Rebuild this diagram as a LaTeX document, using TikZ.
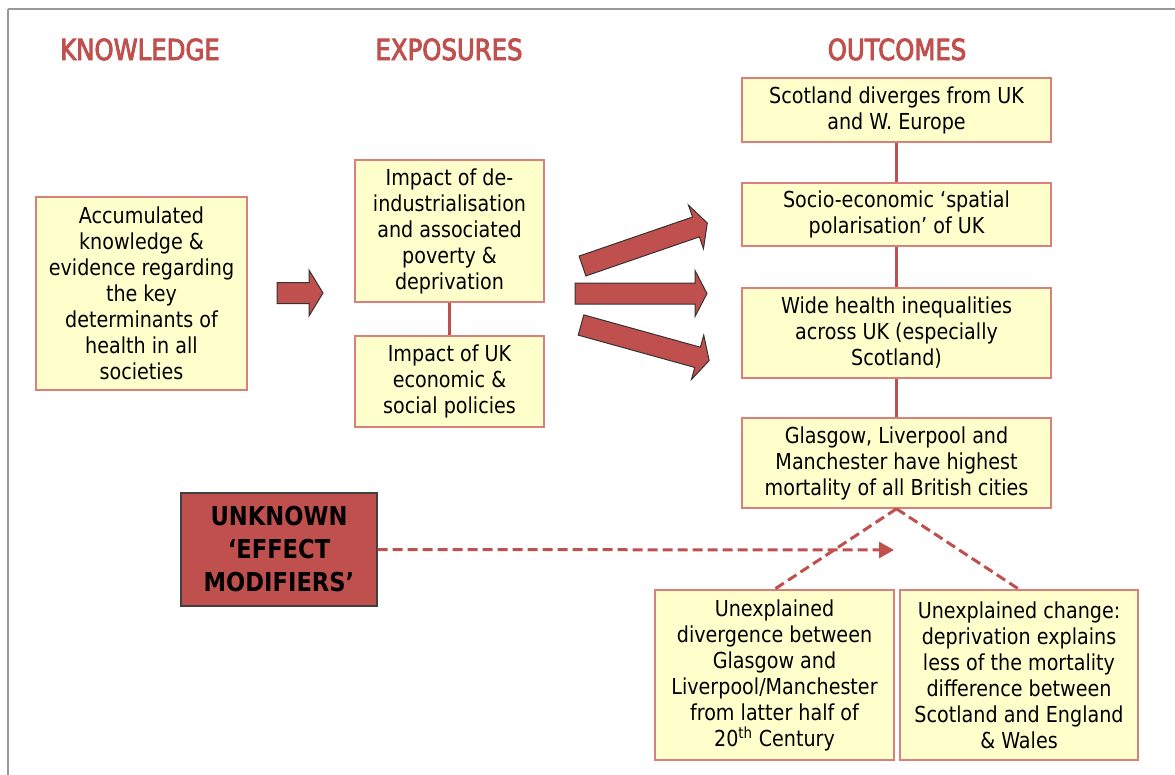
\documentclass[tikz,border=0pt]{standalone}
\usepackage{fontspec}
\setmainfont{DejaVu Sans}[FakeStretch=0.87]
\newfontfamily\headfont{DejaVu Sans}[FakeStretch=0.84, FakeBold=3]
\usetikzlibrary{arrows.meta, positioning}

\definecolor{brick}{HTML}{C0504D}
\definecolor{boxline}{HTML}{D9807C}
\definecolor{pale}{HTML}{FFFFCC}

% fat block arrow: x, y, angle, length, head length
\newcommand{\fatarrow}[5]{%
  \begin{scope}[shift={(#1,#2)}, rotate=#3]
    \filldraw[fatarr] (0,-10.5) -- (#4-#5,-10.5) -- (#4-#5,-23) -- (#4,0)
      -- (#4-#5,23) -- (#4-#5,10.5) -- (0,10.5) -- cycle;
  \end{scope}}

\begin{document}
\begin{tikzpicture}[x=1pt, y=-1pt]
\tikzstyle{every node}=[inner sep=0pt, align=center, font=\fontsize{22}{26}\selectfont]
\tikzstyle{head}=[text=brick, anchor=base, font=\headfont\fontsize{29}{32}\selectfont]
\tikzstyle{box}=[draw=boxline, line width=1.5pt, fill=pale]
\tikzstyle{modbox}=[draw=black!75, line width=1.2pt, fill=brick, font=\fontsize{26}{33}\selectfont\bfseries]
\tikzstyle{fatarr}=[fill=brick, draw=black!80, line width=1pt]
\tikzstyle{link}=[draw=brick, line width=3pt]
\tikzstyle{dlink}=[draw=brick, line width=3pt, dash pattern=on 10pt off 5pt]

\useasboundingbox (0,0) rectangle (1175,774);
\draw[black!40, line width=2pt] (8,9) -- (1200,9) (8,9) -- (8,800);

% column headings
\node[head] at (140,60) (khead) {KNOWLEDGE};
\node[head] at (449,60) (ehead) {EXPOSURES};
\node[head] at (897,60) (ohead) {OUTCOMES};

% knowledge
\node[box, minimum width=211, minimum height=193] at (141.5,293.5) (know)
  {Accumulated\\knowledge \&\\evidence regarding\\the key\\determinants of\\health in all\\societies};

% exposures
\node[box, minimum width=189, minimum height=142] at (449.5,231) (deind)
  {Impact of de-\\industrialisation\\and associated\\poverty \&\\deprivation};
\node[box, minimum width=189, minimum height=91] at (449.5,381.5) (policy)
  {Impact of UK\\economic \&\\social policies};

% outcomes
\node[box, minimum width=309, minimum height=64] at (896.5,110) (diverge)
  {Scotland diverges from UK\\and W. Europe};
\node[box, minimum width=309, minimum height=63] at (896.5,214.5) (polar)
  {Socio-economic ‘spatial\\polarisation’ of UK};
\node[box, minimum width=309, minimum height=90] at (896.5,333) (ineq)
  {Wide health inequalities\\across UK (especially\\Scotland)};
\node[box, minimum width=309, minimum height=90] at (896.5,463) (cities)
  {Glasgow, Liverpool and\\Manchester have highest\\mortality of all British cities};

\node[box, minimum width=239, minimum height=170] at (774.5,675) (unexpa)
  {Unexplained\\divergence between\\Glasgow and\\Liverpool/Manchester\\from latter half of\\20\textsuperscript{th} Century};
\node[box, minimum width=238, minimum height=170] at (1019,675) (unexpb)
  {Unexplained change:\\deprivation explains\\less of the mortality\\difference between\\Scotland and England\\\& Wales};

\node[modbox, minimum width=196, minimum height=113] at (279,549.5) (modif)
  {UNKNOWN\\‘EFFECT\\MODIFIERS’};
\coordinate (hit) at (894,550);

% links
\draw[link] (deind) -- (policy);
\draw[link] (diverge) -- (polar);
\draw[link] (polar) -- (ineq);
\draw[link] (ineq) -- (cities);
\draw[dlink] (cities.south) -- (unexpa.north);
\draw[dlink] (cities.south) -- (unexpb.north);
\draw[dlink, -{Triangle[length=15pt, width=16pt]}] (modif.east) -- (hit);

% block arrows
\fatarrow{277}{293}{0}{46}{14}
\fatarrow{582.5}{266}{19}{132}{12}
\fatarrow{575}{293.5}{0}{132}{12}
\fatarrow{581}{325}{-15.5}{133}{12}
\end{tikzpicture}
\end{document}
